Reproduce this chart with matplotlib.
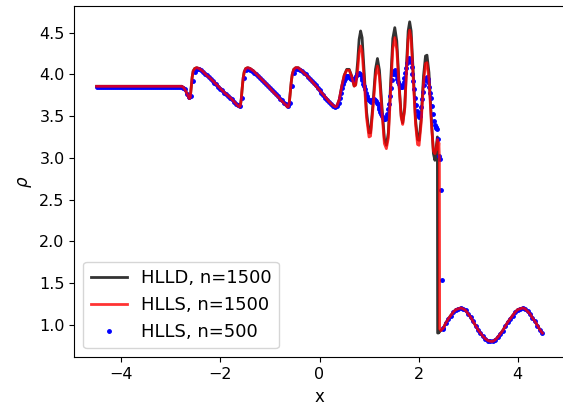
import numpy as np
import matplotlib
matplotlib.use("Agg")
import matplotlib.pyplot as plt

# left (post-shock) constant density
rho_left = 3.857

# fine runs, n=1500: post-shock region up to the shock
x_post = [-4.50, -2.78, -2.74, -2.70, -2.66, -2.63, -2.61, -2.59, -2.57, -2.55,
          -2.52, -2.48, -2.43, -2.36, -2.28, -2.20, -2.10, -2.00, -1.90, -1.80,
          -1.72, -1.66, -1.62, -1.60, -1.58, -1.56, -1.54, -1.52, -1.49, -1.45,
          -1.40, -1.33, -1.25, -1.15, -1.05, -0.95, -0.85, -0.76, -0.69, -0.65,
          -0.63, -0.61, -0.59, -0.57, -0.55, -0.52, -0.48, -0.43, -0.37, -0.30,
          -0.20, -0.10, 0.00, 0.10, 0.20, 0.27, 0.32, 0.35, 0.40, 0.45,
          0.50, 0.55, 0.60, 0.65, 0.70, 0.73, 0.77, 0.80, 0.83, 0.86,
          0.90, 0.95, 1.00, 1.03, 1.08, 1.13, 1.17, 1.21, 1.26, 1.31,
          1.35, 1.39, 1.44, 1.48, 1.52, 1.56, 1.61, 1.65, 1.68, 1.72,
          1.76, 1.79, 1.82, 1.85, 1.89, 1.94, 1.98, 2.01, 2.05, 2.10,
          2.14, 2.17, 2.21, 2.26, 2.30, 2.33, 2.36, 2.38, 2.385, 2.40,
          2.41, 2.42, 2.425]
rho_hlld_post = [rho_left, rho_left, 3.84, 3.80, 3.75, 3.71, 3.72, 3.85, 3.97, 4.04,
                 4.07, 4.08, 4.07, 4.04, 3.99, 3.95, 3.89, 3.83, 3.77, 3.72,
                 3.67, 3.63, 3.61, 3.62, 3.70, 3.84, 3.96, 4.03, 4.07, 4.08,
                 4.07, 4.04, 3.99, 3.93, 3.87, 3.80, 3.74, 3.68, 3.64, 3.61,
                 3.61, 3.66, 3.78, 3.91, 4.00, 4.06, 4.08, 4.08, 4.05, 4.01,
                 3.95, 3.88, 3.81, 3.74, 3.67, 3.63, 3.61, 3.62, 3.70, 3.86,
                 3.99, 4.06, 4.06, 3.98, 3.86, 3.88, 4.15, 4.42, 4.52, 4.44,
                 4.05, 3.55, 3.30, 3.30, 3.65, 4.06, 4.19, 4.05, 3.62, 3.23,
                 3.15, 3.30, 3.95, 4.43, 4.56, 4.40, 3.85, 3.50, 3.42, 3.60,
                 4.15, 4.52, 4.63, 4.52, 4.05, 3.45, 3.22, 3.21, 3.45, 3.98,
                 4.22, 4.23, 4.02, 3.45, 3.05, 2.97, 3.15, 3.25, 0.90, 0.90,
                 0.91, 0.91, 0.92]
rho_hlls_post = [rho_left, rho_left, 3.84, 3.80, 3.75, 3.71, 3.72, 3.85, 3.97, 4.04,
                 4.07, 4.08, 4.07, 4.04, 3.99, 3.95, 3.89, 3.83, 3.77, 3.72,
                 3.67, 3.63, 3.61, 3.62, 3.70, 3.84, 3.96, 4.03, 4.07, 4.08,
                 4.07, 4.04, 3.99, 3.93, 3.87, 3.80, 3.74, 3.68, 3.64, 3.61,
                 3.61, 3.66, 3.78, 3.91, 4.00, 4.06, 4.08, 4.08, 4.05, 4.01,
                 3.95, 3.88, 3.81, 3.74, 3.67, 3.63, 3.61, 3.62, 3.70, 3.86,
                 3.99, 4.05, 4.05, 3.97, 3.86, 3.87, 4.05, 4.26, 4.34, 4.27,
                 3.95, 3.48, 3.25, 3.26, 3.60, 3.98, 4.10, 3.97, 3.55, 3.17,
                 3.11, 3.24, 3.85, 4.31, 4.44, 4.30, 3.82, 3.48, 3.40, 3.58,
                 4.08, 4.42, 4.53, 4.43, 3.98, 3.40, 3.16, 3.15, 3.40, 3.90,
                 4.13, 4.14, 3.94, 3.40, 3.08, 3.05, 3.12, 3.20, 3.22, 3.10,
                 3.18, 3.00, 0.95]

# pre-shock sinusoidal state, common to all runs
x_pre = [2.45, 2.50, 2.55, 2.60, 2.65, 2.70, 2.75, 2.80, 2.85, 2.90,
         2.95, 3.00, 3.05, 3.10, 3.15, 3.20, 3.25, 3.30, 3.35, 3.40,
         3.45, 3.50, 3.55, 3.60, 3.65, 3.70, 3.75, 3.80, 3.85, 3.90,
         3.95, 4.00, 4.05, 4.10, 4.15, 4.20, 4.25, 4.30, 4.35, 4.40,
         4.45, 4.50]
rho_pre = [0.93, 0.96, 1.02, 1.07, 1.11, 1.15, 1.18, 1.19, 1.20, 1.19,
           1.17, 1.13, 1.09, 1.04, 0.99, 0.94, 0.90, 0.86, 0.83, 0.81,
           0.80, 0.80, 0.82, 0.85, 0.89, 0.93, 0.98, 1.03, 1.07, 1.11,
           1.15, 1.18, 1.19, 1.20, 1.19, 1.16, 1.13, 1.08, 1.04, 0.99,
           0.94, 0.90]

# coarse run, n=500
rho_lo_saw = [3.85, 3.84, 3.82, 3.77, 3.73, 3.74, 3.92, 4.03, 4.06, 4.06,
              4.05, 4.03, 4.01, 3.99, 3.97, 3.95, 3.92, 3.90, 3.88, 3.85,
              3.83, 3.81, 3.78, 3.76, 3.74, 3.72, 3.70, 3.67, 3.65, 3.63,
              3.62, 3.72, 3.96, 4.05, 4.06, 4.05, 4.04, 4.02, 4.00, 3.98,
              3.96, 3.93, 3.91, 3.89, 3.86, 3.84, 3.81, 3.79, 3.76, 3.74,
              3.71, 3.69, 3.66, 3.64, 3.62, 3.66, 3.86, 4.02, 4.06, 4.06,
              4.05, 4.04, 4.02, 4.00, 3.97, 3.95, 3.92, 3.90, 3.87, 3.84,
              3.81, 3.78, 3.75, 3.72, 3.69, 3.67, 3.64, 3.62, 3.61, 3.62]
rho_lo_osc = [3.66, 3.72, 3.78, 3.84, 3.88, 3.92, 3.95, 3.97, 3.98, 3.98,
              3.98, 3.97, 3.96, 3.95, 3.94, 3.93, 3.93, 3.94, 3.96, 3.98,
              4.00, 4.01, 4.02, 4.01, 3.99, 3.96, 3.93, 3.89, 3.86, 3.82,
              3.78, 3.74, 3.71, 3.69, 3.68, 3.67, 3.68, 3.69, 3.70, 3.70,
              3.69, 3.68, 3.66, 3.64, 3.61, 3.58, 3.55, 3.52, 3.50, 3.48,
              3.47, 3.47, 3.48, 3.50, 3.53, 3.58, 3.65, 3.74, 3.84, 3.93,
              4.00, 4.04, 4.05, 4.03, 3.99, 3.95, 3.91, 3.88, 3.86, 3.85,
              3.85, 3.87, 3.91, 3.96, 4.02, 4.08, 4.14, 4.18, 4.20, 4.19,
              4.15, 4.09, 4.01, 3.92, 3.82, 3.72, 3.63, 3.56, 3.51, 3.49,
              3.50, 3.54, 3.61, 3.70, 3.79, 3.87, 3.93, 3.96, 3.97, 3.95,
              3.91, 3.85, 3.78, 3.72, 3.62, 3.52, 3.44, 3.39, 3.37, 3.36,
              3.34, 3.22, 3.02, 2.98, 2.62, 1.53, 0.95]

x_fine = np.array(x_post + x_pre)
rho_hlld = np.array(rho_hlld_post + rho_pre)
rho_hlls = np.array(rho_hlls_post + rho_pre)

x_lo_flat = np.linspace(-4.5, -2.84, 42)
x_lo_saw = -2.80 + 0.04 * np.arange(len(rho_lo_saw))
x_lo_osc = 0.40 + 0.018 * np.arange(len(rho_lo_osc))
x_lo = np.concatenate([x_lo_flat, x_lo_saw, x_lo_osc, x_pre[1:]])
rho_lo = np.concatenate([np.full(len(x_lo_flat), 3.845), rho_lo_saw,
                         rho_lo_osc, rho_pre[1:]])

fig = plt.figure(figsize=(5.63, 4.16), dpi=100)
ax = fig.add_axes([0.132, 0.141, 0.871, 0.845])

l1, = ax.plot(x_fine, rho_hlld, color='k', alpha=0.8, lw=2, zorder=2,
              label='HLLD, n=1500')
l3, = ax.plot(x_lo, rho_lo, 'b.', ms=5, zorder=2.5, label='HLLS, n=500')
l2, = ax.plot(x_fine, rho_hlls, color='r', alpha=0.8, lw=2, zorder=3,
              label='HLLS, n=1500')

ax.set_xlabel('x', fontsize=12)
ax.set_ylabel(r'$\rho$', fontsize=12)
ax.tick_params(labelsize=11.5)
ax.legend(handles=[l1, l2, l3], loc='lower left', fontsize=13)

fig.savefig('out.png', dpi=100)
